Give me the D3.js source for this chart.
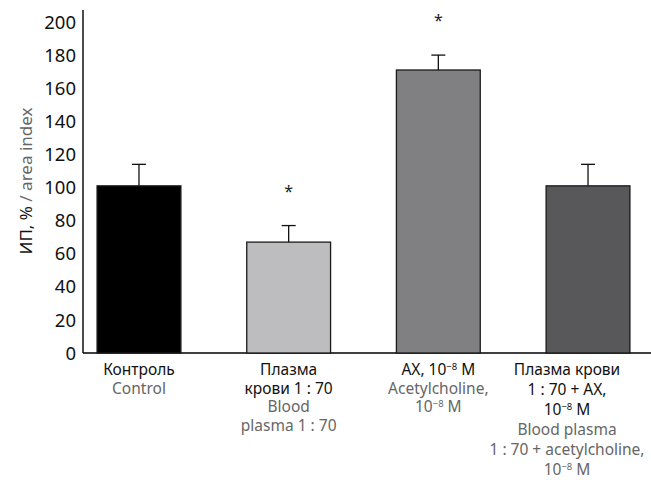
<!DOCTYPE html>
<html>
<head>
<meta charset="utf-8">
<script src="https://cdn.jsdelivr.net/npm/d3@7"></script>
<style>
  body{ margin:0; background:#fff }
  text{ font-family:"Noto Sans", "Open Sans", sans-serif }
</style>
</head>
<body>
<svg id="chart" width="651" height="482"></svg>
<script>
const categories = ['control', 'plasma', 'ach', 'plasmaAch']
const values = [101, 67, 171, 101]
const errors = [13, 10, 9, 13]
const stars = [false, true, true, false]
const colors = ['#000000', '#bdbdbf', '#808083', '#58585a']
const yTicks = [0, 20, 40, 60, 80, 100, 120, 140, 160, 180, 200]
// each line: [text] or [text, superscript, rest]
const labelsRu = [
  [['Контроль']],
  [['Плазма'], ['крови 1 : 70']],
  [['АХ, 10', '−8', ' М']],
  [['Плазма крови'], ['1 : 70 + АХ,'], ['10', '−8', ' М']]
]
const labelsEn = [
  [['Control']],
  [['Blood'], ['plasma  1 : 70']],
  [['Acetylcholine,'], ['10', '−8', ' M']],
  [['Blood plasma'], ['1 : 70 + acetylcholine,'], ['10', '−8', ' M']]
]

const svg = d3.select('#chart')
const x0 = 83, yTop = 10, yBase = 353

const y = d3.scaleLinear().domain([0, 200]).range([yBase, 22])
const x = d3.scaleBand().domain(categories)
  .range([x0, 644]).paddingInner(0.44).paddingOuter(0.094)

// axes
svg.append('line').attr('x1', x0).attr('x2', x0).attr('y1', yTop).attr('y2', yBase)
  .attr('stroke', '#000').attr('stroke-width', 1.4)
svg.append('line').attr('x1', x0).attr('x2', 651).attr('y1', yBase).attr('y2', yBase)
  .attr('stroke', '#000').attr('stroke-width', 1.4)

svg.append('g').selectAll('text').data(yTicks).join('text')
  .attr('x', 76).attr('y', d => y(d)).attr('dy', '0.36em')
  .attr('text-anchor', 'end').attr('font-size', 18.5).attr('fill', '#111')
  .text(d => d)

// y label
const yl = svg.append('text').attr('transform', 'translate(32,181) rotate(-90)')
  .attr('text-anchor', 'middle').attr('font-size', 17)
yl.append('tspan').attr('fill', '#111').text('ИП, % ')
yl.append('tspan').attr('fill', '#666').text('/ area index')

// bars
const data = categories.map((c, i) => ({ c, v: values[i], e: errors[i], s: stars[i], col: colors[i] }))
const g = svg.append('g')
g.selectAll('rect').data(data).join('rect')
  .attr('x', d => x(d.c)).attr('width', x.bandwidth())
  .attr('y', d => y(d.v)).attr('height', d => yBase - y(d.v))
  .attr('fill', d => d.col).attr('stroke', '#1a1a1a').attr('stroke-width', 1.3)

// error bars
const cx = d => x(d.c) + x.bandwidth() / 2
g.selectAll('line.err').data(data).join('line').attr('class', 'err')
  .attr('x1', cx).attr('x2', cx)
  .attr('y1', d => y(d.v)).attr('y2', d => y(d.v + d.e))
  .attr('stroke', '#111').attr('stroke-width', 1.3)
g.selectAll('line.cap').data(data).join('line').attr('class', 'cap')
  .attr('x1', d => cx(d) - 7).attr('x2', d => cx(d) + 7)
  .attr('y1', d => y(d.v + d.e)).attr('y2', d => y(d.v + d.e))
  .attr('stroke', '#111').attr('stroke-width', 1.3)

g.selectAll('text.star').data(data.filter(d => d.s)).join('text').attr('class', 'star')
  .attr('x', cx).attr('y', d => y(d.v + d.e) - 29)
  .attr('text-anchor', 'middle').attr('font-size', 16).attr('fill', '#222')
  .text('*')

// category labels (last one sits left of its bar so it fits the frame)
const labelShift = [0, 0, 0, -21]
const lineGap = [18.6, 18.6, 18.6, 20]
function addLine(parts, xPos, yPos, fill){
  const t = svg.append('text').attr('x', xPos).attr('y', yPos)
    .attr('text-anchor', 'middle').attr('font-size', 15.5).attr('fill', fill)
  t.append('tspan').text(parts[0])
  if(parts.length > 1){
    t.append('tspan').attr('dy', -5).attr('font-size', 9.5).text(parts[1])
    t.append('tspan').attr('dy', 5).text(parts[2])
  }
}
categories.forEach((c, i) => {
  const xc = x(c) + x.bandwidth() / 2 + labelShift[i]
  let row = 0
  labelsRu[i].forEach(p => { addLine(p, xc, 375 + row * lineGap[i], '#111'); row++ })
  labelsEn[i].forEach(p => { addLine(p, xc, 375 + row * lineGap[i], '#666'); row++ })
})
</script>
</body>
</html>
